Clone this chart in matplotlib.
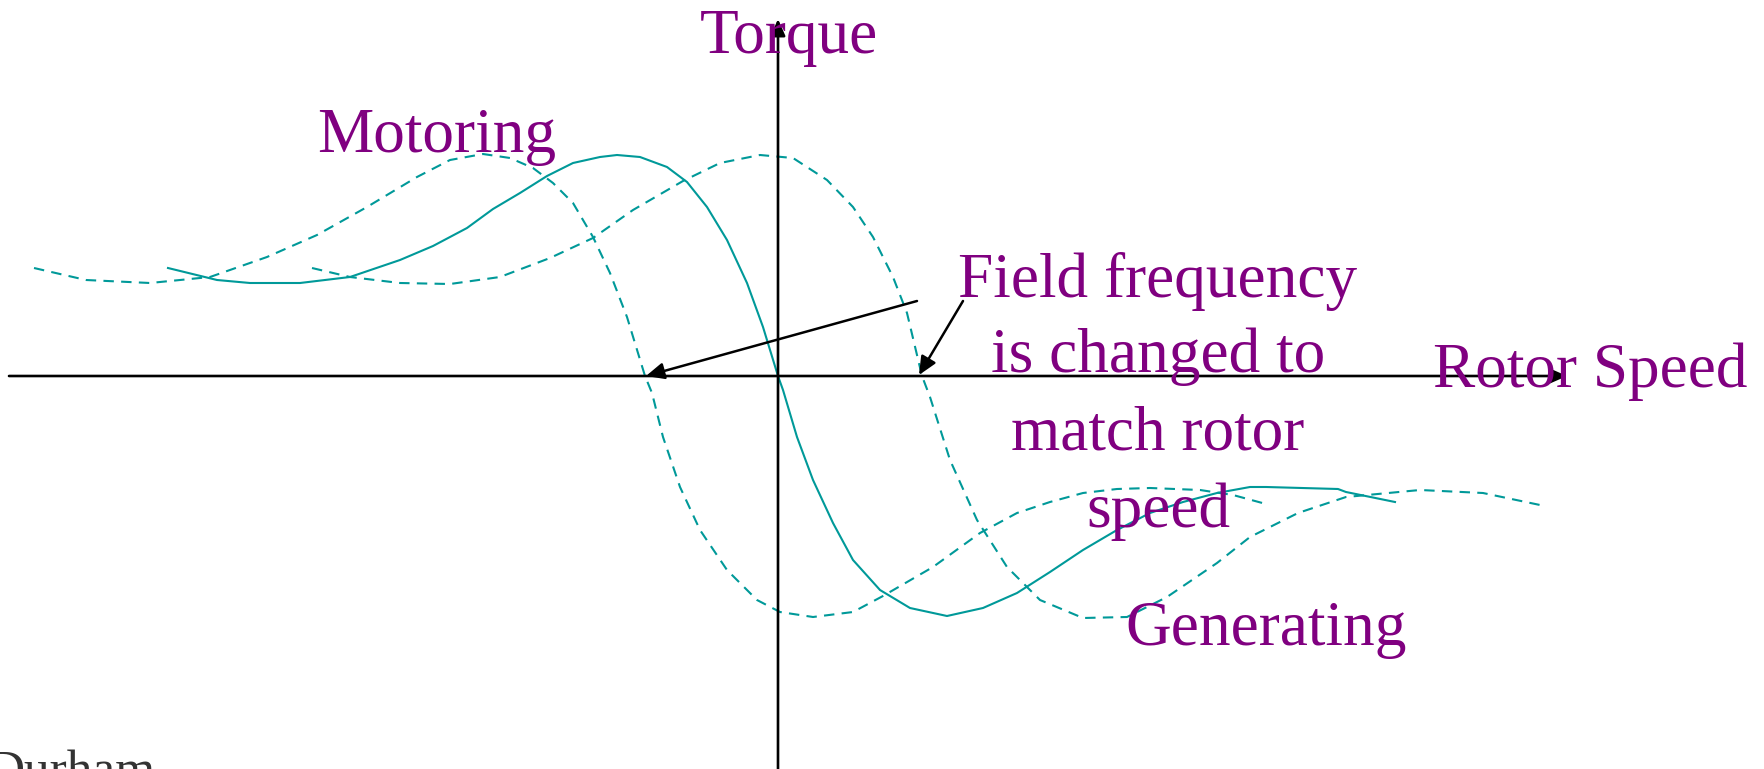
import matplotlib.pyplot as plt

# Torque-speed curves (origin = axis crossing)
solid_speed = [-610, -561, -528, -478, -428, -378, -345, -311, -285, -258, -231,
               -205, -178, -161, -138, -111, -91, -71, -51, -31, -15, 0, 5, 19,
               35, 55, 75, 102, 132, 169, 205, 239, 272, 305, 339, 372, 405, 439,
               472, 488, 560, 568, 617]
solid_torque = [108, 96, 93, 93, 99, 116, 130, 148, 167, 183, 200,
                213, 219, 221, 219, 209, 194, 169, 136, 93, 49, 0, -14, -61,
                -104, -147, -184, -214, -232, -240, -232, -217, -196, -174, -154, -137, -126, -117,
                -111, -111, -113, -116, -126]

left_speed = [-744, -692, -628, -568, -511, -461, -411, -361, -328, -295, -268,
              -245, -225, -205, -185, -168, -151, -133, -126, -115, -98, -78, -51,
              -21, 2, 35, 75, 105, 155, 202, 239, 272, 305, 339, 372, 422, 455, 488]
left_torque = [108, 96, 93, 99, 119, 141, 169, 199, 216, 222, 218,
               208, 193, 173, 139, 103, 59, 0, -17, -61, -111, -154, -194,
               -224, -236, -241, -236, -220, -191, -157, -137, -126, -117, -113, -112, -114, -119, -128]

right_speed = [-466, -428, -378, -328, -278, -228, -185, -145, -95, -58, -18, 15,
               49, 75, 95, 115, 129, 144, 152, 172, 199, 229, 262, 305, 349, 389,
               439, 472, 520, 568, 642, 705, 762]
right_torque = [108, 99, 93, 92, 99, 118, 138, 166, 195, 213, 221, 218,
                196, 169, 139, 99, 63, 0, -21, -84, -144, -191, -224, -242, -241, -221,
                -187, -161, -137, -121, -114, -117, -129]

field_lines = ['Field frequency', 'is changed to', 'match rotor', 'speed']
field_y = [79, 4, -73, -151]

purple = '#800080'
teal = '#009999'
font = 'Liberation Serif'

fig = plt.figure(figsize=(17.64, 7.69), dpi=100)
ax = fig.add_axes([0, 0, 1, 1])
ax.set_xlim(-778, 986)
ax.set_ylim(-393, 376)
ax.axis('off')

# Curves
ax.plot(solid_speed, solid_torque, color=teal, lw=1.5, solid_joinstyle='round')
ax.plot(left_speed, left_torque, color=teal, lw=1.5, ls=(0, (5, 3.5)))
ax.plot(right_speed, right_torque, color=teal, lw=1.5, ls=(0, (5, 3.5)))

# Axes with arrow heads
head = dict(arrowstyle='-|>,head_length=0.5,head_width=0.22', color='black',
            lw=1.9, mutation_scale=20, shrinkA=0, shrinkB=0)
ax.annotate('', xy=(789, 0), xytext=(-769, 0), arrowprops=head)
ax.annotate('', xy=(0, 357), xytext=(0, -400), arrowprops=head)

# Pointer arrows from the note
ptr = dict(arrowstyle='-|>,head_length=0.55,head_width=0.25', color='black',
           lw=1.8, mutation_scale=20, shrinkA=0, shrinkB=0)
ax.annotate('', xy=(-132, 0), xytext=(139, 75), arrowprops=ptr)
ax.annotate('', xy=(141, 1), xytext=(185, 75), arrowprops=ptr)

# Labels
fs = 45.5
ax.text(-78, 323, 'Torque', color=purple, fontsize=fs, family=font, va='baseline')
ax.text(-461, 224, 'Motoring', color=purple, fontsize=fs, family=font, va='baseline')
ax.text(655, -11, 'Rotor Speed', color=purple, fontsize=fs, family=font, va='baseline')
ax.text(347, -269, 'Generating', color=purple, fontsize=fs, family=font, va='baseline')
for line, y in zip(field_lines, field_y):
    ax.text(380, y, line, color=purple, fontsize=fs, family=font,
            ha='center', va='baseline')

# footer text, cut by the lower edge as in the slide
ax.text(-790, -410, 'Durham', color='#333333', fontsize=37, family=font,
        va='baseline', clip_on=False)

fig.savefig('out.png', dpi=100)
